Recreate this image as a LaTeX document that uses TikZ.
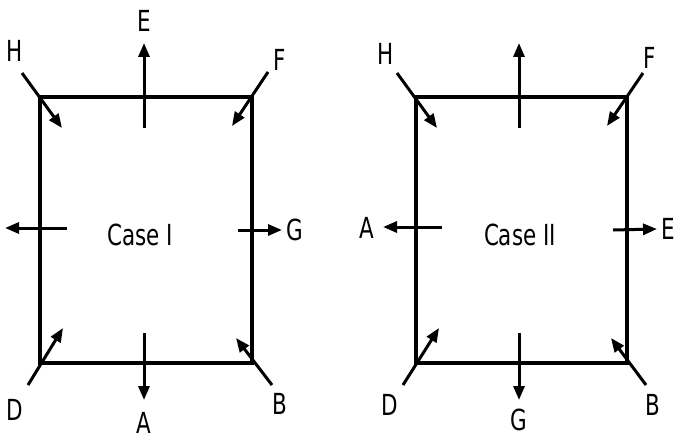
\documentclass[tikz,border=0pt]{standalone}
\usepackage{fontspec}
\setmainfont{DejaVu Sans}[FakeStretch=0.74]
\usetikzlibrary{arrows.meta}
\tikzset{
  wall/.style={line width=4pt, line join=miter},
  force/.style={line width=3pt, -{Triangle[length=14pt,width=11pt]}},
  lab/.style={inner sep=0pt, font=\fontsize{29}{35}\selectfont},
}
\begin{document}
\begin{tikzpicture}[x=1pt,y=-1pt]
\useasboundingbox (0,0) rectangle (676,441);
% ---------- Case I ----------
\draw[wall] (40,97) rectangle (252,363);
\coordinate (e1s) at (144,128); \coordinate (e1t) at (144,43);
\coordinate (h1s) at (22,73);   \coordinate (h1t) at (62,128);
\coordinate (f1s) at (268,72);  \coordinate (f1t) at (232,126);
\coordinate (l1s) at (67,228);  \coordinate (l1t) at (5,228);
\coordinate (g1s) at (238,230); \coordinate (g1t) at (282,230);
\coordinate (d1s) at (28,385);  \coordinate (d1t) at (63,328);
\coordinate (b1s) at (272,385); \coordinate (b1t) at (236,338);
\coordinate (a1s) at (144,333); \coordinate (a1t) at (144,400);
\draw[force] (e1s) -- (e1t);
\draw[force] (h1s) -- (h1t);
\draw[force] (f1s) -- (f1t);
\draw[force] (l1s) -- (l1t);
\draw[force] (g1s) -- (g1t);
\draw[force] (d1s) -- (d1t);
\draw[force] (b1s) -- (b1t);
\draw[force] (a1s) -- (a1t);
\node[lab] (E1) at (144,21) {E};
\node[lab] (H1) at (15,51) {H};
\node[lab] (F1) at (280,60) {F};
\node[lab] (G1) at (295,230) {G};
\node[lab] (C1) at (140,235) {Case I};
\node[lab] (D1) at (15,410) {D};
\node[lab] (A1) at (144,423) {A};
\node[lab] (B1) at (280,404) {B};
% ---------- Case II ----------
\draw[wall] (416,97) rectangle (627,363);
\coordinate (t2s) at (519,128); \coordinate (t2t) at (519,43);
\coordinate (h2s) at (397,73);  \coordinate (h2t) at (437,128);
\coordinate (f2s) at (643,73);  \coordinate (f2t) at (607,126);
\coordinate (l2s) at (442,227); \coordinate (l2t) at (383,227);
\coordinate (r2s) at (613,230); \coordinate (r2t) at (657,229);
\coordinate (d2s) at (403,385); \coordinate (d2t) at (439,328);
\coordinate (b2s) at (646,385); \coordinate (b2t) at (611,338);
\coordinate (g2s) at (519,333); \coordinate (g2t) at (519,400);
\draw[force] (t2s) -- (t2t);
\draw[force] (h2s) -- (h2t);
\draw[force] (f2s) -- (f2t);
\draw[force] (l2s) -- (l2t);
\draw[force] (r2s) -- (r2t);
\draw[force] (d2s) -- (d2t);
\draw[force] (b2s) -- (b2t);
\draw[force] (g2s) -- (g2t);
\node[lab] (H2) at (386,54) {H};
\node[lab] (F2) at (650,58) {F};
\node[lab] (A2) at (367,228) {A};
\node[lab] (E2) at (668,229) {E};
\node[lab] (C2) at (520,235) {Case II};
\node[lab] (D2) at (390,405) {D};
\node[lab] (G2) at (519,420) {G};
\node[lab] (B2) at (653,405) {B};
\end{tikzpicture}
\end{document}
